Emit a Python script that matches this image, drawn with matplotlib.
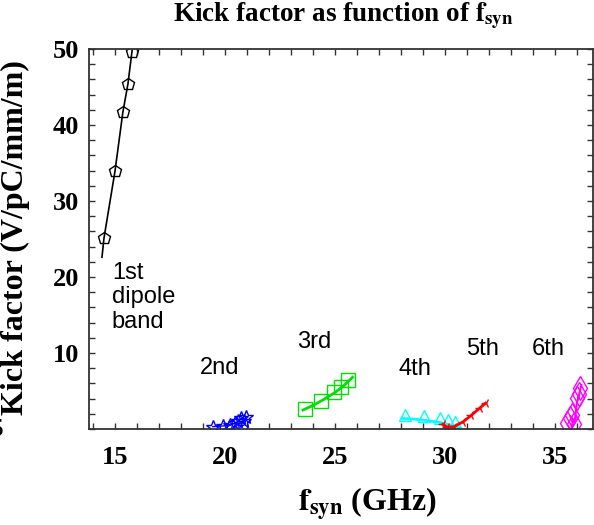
import numpy as np
import matplotlib.pyplot as plt

plt.rcParams['mathtext.fontset'] = 'stix'

# 1st dipole band (black pentagons)
b1_x = [14.5, 15.0, 15.36, 15.59, 15.77]
b1_y = [25.1, 33.9, 41.7, 45.4, 49.6]
b1_lx = [14.41, 14.5, 15.0, 15.36, 15.59, 15.77, 15.9]
b1_ly = [22.6, 25.1, 33.9, 41.7, 45.4, 49.6, 52.0]

# 2nd band (blue stars)
b2_x = [19.45, 19.9, 20.25, 20.45, 20.6, 20.75, 20.85, 20.95]
b2_y = [0.3, 0.4, 0.5, 0.8, 1.0, 1.4, 1.1, 1.6]

# 3rd band (green squares)
b3_x = [23.64, 24.36, 24.95, 25.27, 25.59]
b3_y = [2.6, 3.7, 4.9, 5.5, 6.4]
b3_lx = [23.55, 24.0, 24.5, 25.0, 25.4, 25.8]
b3_ly = [2.5, 3.1, 3.9, 4.8, 5.7, 6.8]

# 4th band (cyan triangles)
b4_x = [28.18, 29.05, 29.77, 30.14, 30.45]
b4_y = [1.8, 1.7, 1.45, 1.2, 0.9]
b4_lx = [28.05, 28.6, 29.2, 29.8, 30.2, 30.5, 30.7]
b4_ly = [1.4, 1.3, 1.1, 0.85, 0.55, 0.3, 0.1]

# 5th band (red)
b5_x = [29.9, 30.1, 30.4, 30.8, 31.2, 31.6, 31.85]
b5_y = [0.6, 0.25, 0.3, 0.9, 1.8, 2.8, 3.4]

# 6th band (magenta diamonds)
b6_x = [35.55, 35.68, 35.77, 35.85, 36.0, 36.1, 36.14]
b6_y = [0.8, 1.45, 1.8, 0.6, 4.1, 4.6, 5.4]
b6_lx = [35.75, 35.8, 35.7, 35.9, 36.0, 36.1, 36.05, 36.2]
b6_ly = [0.0, 0.9, 1.7, 1.0, 3.5, 4.4, 3.9, 5.8]

labels = ['1st\ndipole\nband', '2nd', '3rd', '4th', '5th', '6th']
label_x = [14.86, 18.86, 23.27, 27.9, 30.95, 33.95]
label_y = [22.0, 8.0, 11.4, 7.9, 10.5, 10.5]

fig = plt.figure(figsize=(5.94, 5.25), dpi=100)
ax = fig.add_axes([89/594, 1-429/525, 504/594, 380/525])

ax.plot(b1_lx, b1_ly, color='black', lw=1.2)
ax.plot(b1_x, b1_y, ls='none', marker='p', ms=9, mfc='none', mec='black', mew=1)

ax.plot(b2_x, b2_y, color='blue', lw=1, marker='*', ms=10, mfc='none', mec='blue', mew=1)

ax.plot(b3_lx, b3_ly, color='#00e000', lw=2)
ax.plot(b3_x, b3_y, ls='none', marker='s', ms=10, mfc='none', mec='#00e000', mew=1)

ax.plot(b4_lx, b4_ly, color='cyan', lw=2)
ax.plot(b4_x, b4_y, ls='none', marker='^', ms=9, mfc='none', mec='cyan', mew=1)

ax.plot(b5_x, b5_y, color='red', lw=2, marker='3', ms=7, mec='red')

ax.plot(b6_lx, b6_ly, color='magenta', lw=1.5)
ax.plot(b6_x, b6_y, ls='none', marker='d', ms=12, mfc='none', mec='magenta', mew=1)

for i, (t, x, y) in enumerate(zip(labels, label_x, label_y)):
    ax.text(x, y, t, family='Liberation Sans', fontsize=17, ha='left',
            va='top' if i == 0 else 'center', linespacing=1.15)

ax.set_xlim(13.82, 36.73)
ax.set_ylim(0, 50)
ax.set_xticks([15, 20, 25, 30, 35])
ax.set_xticks(np.arange(14, 37, 1), minor=True)
ax.set_yticks([10, 20, 30, 40, 50])
ax.set_yticks(np.arange(0, 51, 2), minor=True)
ax.tick_params(which='both', direction='in', length=4, width=1, top=True, right=True,
               color='#333333')
for lab in ax.get_xticklabels() + ax.get_yticklabels():
    lab.set_family('Liberation Serif')
    lab.set_fontweight('bold')
    lab.set_fontsize(19)
ax.tick_params(axis='x', pad=12)
ax.tick_params(axis='y', pad=7)
for s in ax.spines.values():
    s.set_linewidth(1.3)
    s.set_color('#333333')

ax.set_ylabel('Kick factor (V/pC/mm/m)', family='Liberation Serif', fontweight='bold',
              fontsize=23)
ax.yaxis.set_label_coords(-0.118, 0.505)
ax.set_xlabel(r'$\mathbf{f}_{\mathbf{syn}}$ (GHz)', family='Liberation Serif',
              fontweight='bold', fontsize=23)
ax.xaxis.set_label_coords(0.552, -0.15)

fig.text(343/594, 1-16/525, r'Kick factor as function of $\mathbf{f}_{\mathbf{syn}}$',
         family='Liberation Serif', fontweight='bold', fontsize=19.5, ha='center', va='center')

fig.text(3/594, 1-430/525, '5', family='Liberation Serif', fontweight='bold',
         fontsize=18, ha='right', va='center')

fig.savefig('out.png', dpi=100)
